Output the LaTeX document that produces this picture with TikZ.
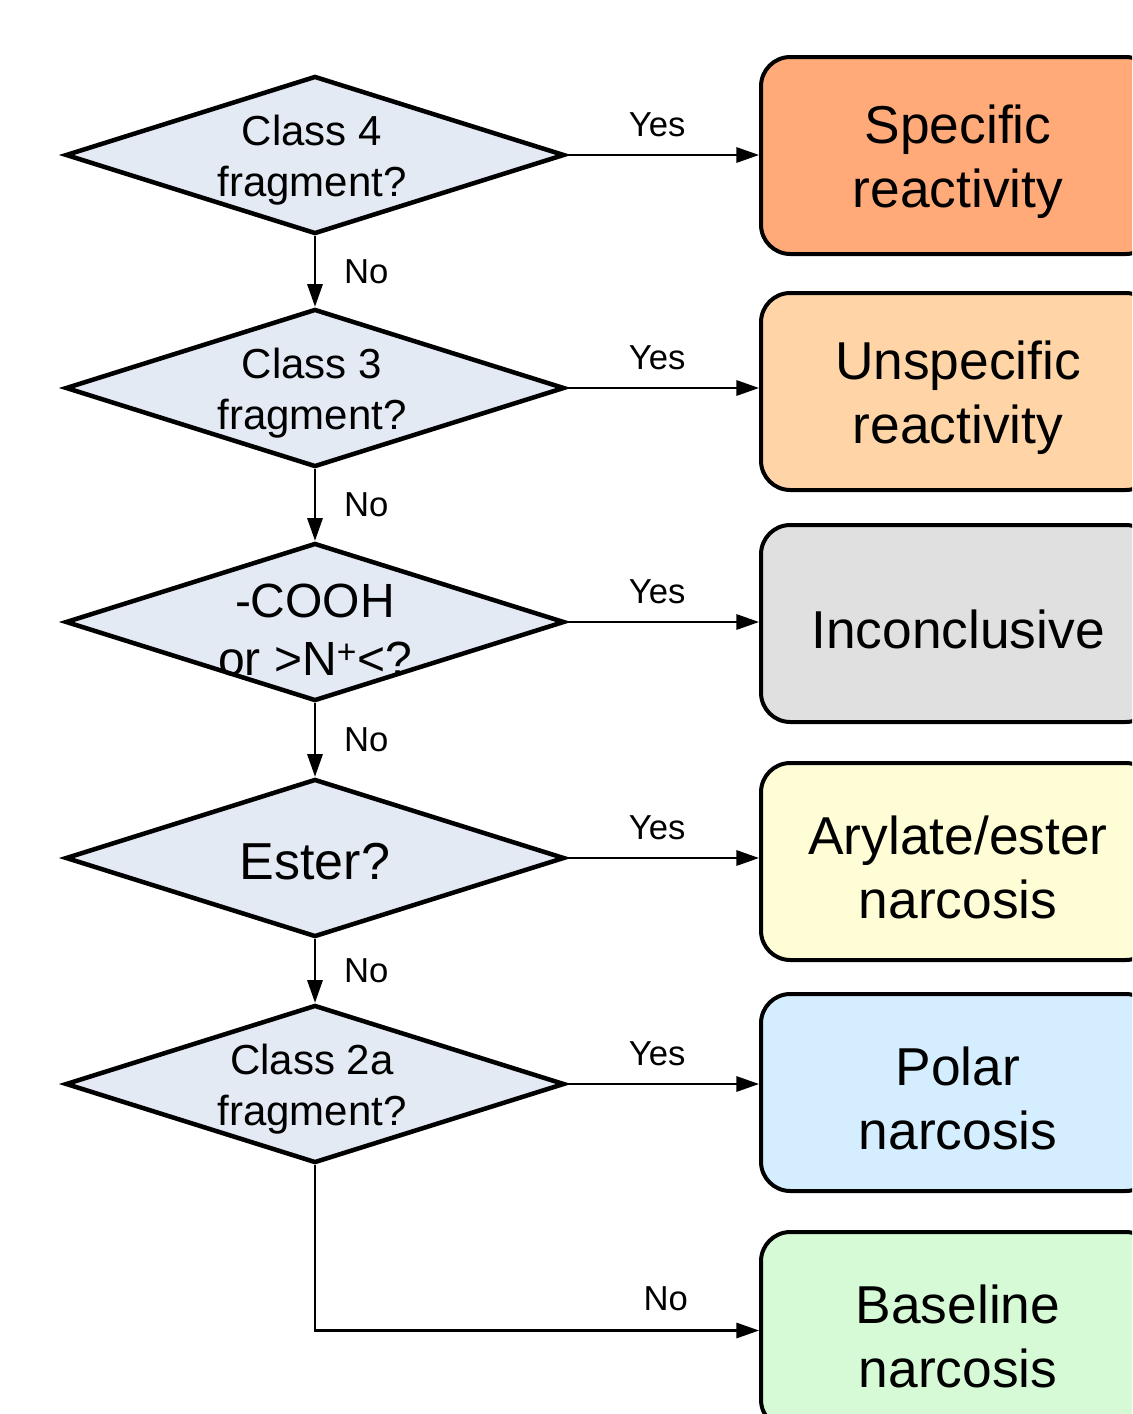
\documentclass[tikz,border=0pt]{standalone}
\usepackage{fontspec}
\setmainfont{Liberation Sans}
\usetikzlibrary{shapes.geometric,arrows.meta}
\definecolor{diafill}{HTML}{E3EAF4}
\definecolor{c1}{HTML}{FFAA78}
\definecolor{c2}{HTML}{FFD5A8}
\definecolor{c3}{HTML}{E0E0E0}
\definecolor{c4}{HTML}{FFFDD6}
\definecolor{c5}{HTML}{D5EEFF}
\definecolor{c6}{HTML}{D5FAD5}
\begin{document}
\begin{tikzpicture}[x=0.75pt,y=-0.75pt,
  dia/.style={diamond, draw, line width=3.4pt, fill=diafill, minimum width=374.25pt, minimum height=118.5pt, inner sep=0pt},
  dtext/.style={font=\fontsize{31.5}{38}\selectfont, align=center, inner sep=0pt},
  res/.style={rectangle, rounded corners=22pt, draw, line width=3pt, minimum width=295.5pt, minimum height=147.75pt, inner sep=0pt},
  rtext/.style={align=center, font=\fontsize{40}{48}\selectfont, inner sep=0pt, yshift=-4.5pt},
  arr/.style={line width=1.6pt, -{Triangle[length=17pt,width=11.5pt]}},
  lab/.style={font=\fontsize{26}{30}\selectfont, inner sep=0pt}]
\useasboundingbox (0,0) rectangle (1132,1414);
\clip (0,0) rectangle (1132,1414);
% decisions
\node[dia] (d1) at (315,155) {};
\node[dtext] (t1) at (312,160) {Class 4\\fragment?};
\node[dia] (d2) at (315,388) {};
\node[dtext] (t2) at (312,393) {Class 3\\fragment?};
\node[dia] (d3) at (315,622) {};
\node[dtext, font=\fontsize{36}{43.5}\selectfont] (t3) at (315,630) {-COOH\\or >N\textsuperscript{+}<?};
\node[dia] (d4) at (315,858) {};
\node[dtext, font=\fontsize{39}{46}\selectfont] (t4) at (315,862) {Ester?};
\node[dia] (d5) at (315,1084) {};
\node[dtext] (t5) at (312,1089) {Class 2a\\fragment?};
% results
\node[res, fill=c1] (b1) at (958,155.5) {};
\node[rtext] (r1) at (b1) {Specific\\reactivity};
\node[res, fill=c2] (b2) at (958,391.5) {};
\node[rtext] (r2) at (b2) {Unspecific\\reactivity};
\node[res, fill=c3] (b3) at (958,623.5) {};
\node[rtext] (r3) at (b3) {Inconclusive};
\node[res, fill=c4] (b4) at (958,861.5) {};
\node[rtext] (r4) at (b4) {Arylate/ester\\narcosis};
\node[res, fill=c5] (b5) at (958,1092.5) {};
\node[rtext] (r5) at (b5) {Polar\\narcosis};
\node[res, fill=c6] (b6) at (958,1330.5) {};
\node[rtext] (r6) at (b6) {Baseline\\narcosis};
% yes arrows
\foreach \i in {1,...,5}{
  \draw[arr] (d\i.east) -- node[lab, above=13pt, pos=0.47] {Yes} (d\i.east -| b\i.west);
}
% no arrows
\foreach \i/\j in {1/2,2/3,3/4,4/5}{
  \draw[arr] (d\i.south) -- node[lab, right=21pt] {No} (d\j.north);
}
\coordinate (corner) at (d5.south |- b6.west);
\draw[arr] (d5.south) -- (corner) -- node[lab, above=14pt, pos=0.79] {No} (b6.west);
\end{tikzpicture}
\end{document}
